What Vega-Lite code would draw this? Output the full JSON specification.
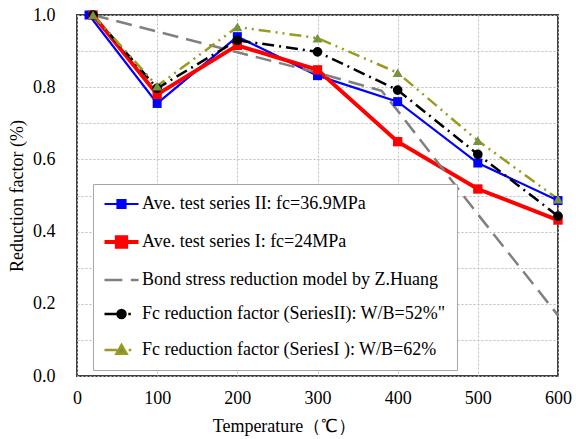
{
  "$schema": "https://vega.github.io/schema/vega-lite/v6.json",
  "width": 481,
  "height": 361,
  "autosize": {"type": "none"},
  "padding": {"left": 77, "top": 15, "right": 18, "bottom": 63},
  "background": "white",
  "view": {"stroke": "#404040", "strokeWidth": 2},
  "config": {
    "font": "Liberation Serif",
    "axis": {
      "labelFont": "Liberation Serif", "labelFontSize": 18, "labelColor": "black",
      "titleFont": "Liberation Serif", "titleFontSize": 18, "titleFontWeight": "normal", "titleColor": "black",
      "domain": false, "ticks": false, "tickSize": 0,
      "grid": true, "gridColor": "#bdbdbd", "gridDash": [2, 2], "gridWidth": 1,
      "labelFlush": false, "labelOverlap": false
    }
  },
  "data": {
    "values": [
      {"s": "a", "t": 15, "v": 1.0},
      {"s": "a", "t": 100, "v": 0.755},
      {"s": "a", "t": 200, "v": 0.94},
      {"s": "a", "t": 300, "v": 0.832},
      {"s": "a", "t": 400, "v": 0.76},
      {"s": "a", "t": 500, "v": 0.59},
      {"s": "a", "t": 600, "v": 0.486},
      {"s": "b", "t": 20, "v": 1.0},
      {"s": "b", "t": 100, "v": 0.78},
      {"s": "b", "t": 200, "v": 0.916},
      {"s": "b", "t": 300, "v": 0.848},
      {"s": "b", "t": 400, "v": 0.649},
      {"s": "b", "t": 500, "v": 0.518},
      {"s": "b", "t": 600, "v": 0.432},
      {"s": "c", "t": 20, "v": 1.0},
      {"s": "c", "t": 100, "v": 0.954},
      {"s": "c", "t": 200, "v": 0.897},
      {"s": "c", "t": 300, "v": 0.84},
      {"s": "c", "t": 380, "v": 0.79},
      {"s": "c", "t": 400, "v": 0.735},
      {"s": "c", "t": 500, "v": 0.448},
      {"s": "c", "t": 600, "v": 0.168},
      {"s": "d", "t": 20, "v": 1.0},
      {"s": "d", "t": 100, "v": 0.797},
      {"s": "d", "t": 200, "v": 0.93},
      {"s": "d", "t": 300, "v": 0.898},
      {"s": "d", "t": 400, "v": 0.792},
      {"s": "d", "t": 500, "v": 0.614},
      {"s": "d", "t": 600, "v": 0.443},
      {"s": "e", "t": 20, "v": 1.0},
      {"s": "e", "t": 100, "v": 0.803},
      {"s": "e", "t": 200, "v": 0.967},
      {"s": "e", "t": 300, "v": 0.936},
      {"s": "e", "t": 400, "v": 0.84},
      {"s": "e", "t": 500, "v": 0.652},
      {"s": "e", "t": 600, "v": 0.49}
    ]
  },
  "encoding": {
    "x": {
      "field": "t", "type": "quantitative",
      "scale": {"domain": [0, 600], "nice": false},
      "axis": {
        "title": "Temperature（℃）",
        "values": [0, 100, 200, 300, 400, 500, 600],
        "format": "d",
        "labelPadding": 13,
        "titlePadding": 10,
        "titleX": 207
      }
    },
    "y": {
      "field": "v", "type": "quantitative",
      "scale": {"domain": [0, 1], "nice": false},
      "axis": {
        "title": "Reduction factor (%)",
        "values": [0, 0.1, 0.2, 0.3, 0.4, 0.5, 0.6, 0.7, 0.8, 0.9, 1.0],
        "labelExpr": "round(datum.value*10)%2==0 ? format(datum.value, '.1f') : ''",
        "labelPadding": 22,
        "titlePadding": 6
      }
    },
    "color": {
      "field": "s", "type": "nominal",
      "scale": {"domain": ["a", "b", "c", "d", "e"], "range": ["#0000FF", "#FF0000", "#808080", "#000000", "#9B9B1F"]},
      "legend": {
        "orient": "none", "legendX": 16, "legendY": 169,
        "direction": "vertical", "title": null,
        "fillColor": "white", "strokeColor": "#a6a6a6", "padding": 11,
        "rowPadding": 16, "symbolSize": 289, "symbolType": "M-1,0H3",
        "labelFont": "Liberation Serif", "labelFontSize": 18, "labelColor": "black",
        "labelOffset": 20, "labelLimit": 0,
        "labelExpr": "datum.value==='a'?'Ave. test series II: fc=36.9MPa':datum.value==='b'?'Ave. test series I: fc=24MPa':datum.value==='c'?'Bond stress reduction model by Z.Huang':datum.value==='d'?'Fc reduction factor (SeriesII): W/B=52%\"':'Fc reduction factor (SeriesI ): W/B=62%'",
        "encode": {
          "symbols": {
            "update": {
              "shape": {"signal": "datum.value==='a'?'M-1,0H3M0.53,-0.47H1.47V0.47H0.53Z':datum.value==='b'?'M-1,0H3M0.45,-0.55H1.55V0.55H0.45Z':datum.value==='c'?'M-1,0H1.1M2.1,0H3':datum.value==='d'?'M-1,0H0.53M1.47,0A0.47,0.47 0 1,1 0.53,0A0.47,0.47 0 1,1 1.47,0ZM1.8,0H2.1':'M-1,0H0.5M1,-0.6L1.6,0.45L0.4,0.45ZM1.85,0H2.15'"},
              "fill": {"signal": "datum.value==='a'?'#0000FF':datum.value==='b'?'#FF0000':datum.value==='d'?'#000000':datum.value==='e'?'#77933C':'transparent'"},
              "stroke": {"signal": "datum.value==='a'?'#0000FF':datum.value==='b'?'#FF0000':datum.value==='c'?'#808080':datum.value==='d'?'#000000':'#9B9B1F'"},
              "strokeWidth": {"signal": "datum.value==='b'?4:datum.value==='a'?2.2:2.5"},
              "opacity": {"value": 1}
            }
          }
        }
      }
    }
  },
  "layer": [
    {
      "transform": [{"filter": "datum.s === 'a'"}],
      "mark": {"type": "line", "strokeWidth": 2.2}
    },
    {
      "transform": [{"filter": "datum.s === 'b'"}],
      "mark": {"type": "line", "strokeWidth": 4}
    },
    {
      "transform": [{"filter": "datum.s === 'c'"}],
      "mark": {"type": "line", "strokeWidth": 2.5, "strokeDash": [16, 8]}
    },
    {
      "transform": [{"filter": "datum.s === 'd'"}],
      "mark": {"type": "line", "strokeWidth": 2.5, "strokeDash": [12, 5, 2, 5]}
    },
    {
      "transform": [{"filter": "datum.s === 'e'"}],
      "mark": {"type": "line", "strokeWidth": 2.5, "strokeDash": [12, 5, 2, 5, 2, 5]}
    },
    {
      "transform": [{"filter": "datum.s !== 'c'"}],
      "mark": {"type": "point", "filled": true, "opacity": 1, "strokeWidth": 0},
      "encoding": {
        "color": {"value": null},
        "shape": {
          "field": "s", "type": "nominal",
          "scale": {"domain": ["a", "b", "d", "e"], "range": ["square", "square", "circle", "triangle-up"]},
          "legend": null
        },
        "fill": {
          "field": "s", "type": "nominal",
          "scale": {"domain": ["a", "b", "d", "e"], "range": ["#0000FF", "#FF0000", "#000000", "#77933C"]},
          "legend": null
        },
        "size": {
          "field": "s", "type": "nominal",
          "scale": {"domain": ["a", "b", "d", "e"], "range": [81, 100, 64, 110]},
          "legend": null
        }
      }
    }
  ]
}
